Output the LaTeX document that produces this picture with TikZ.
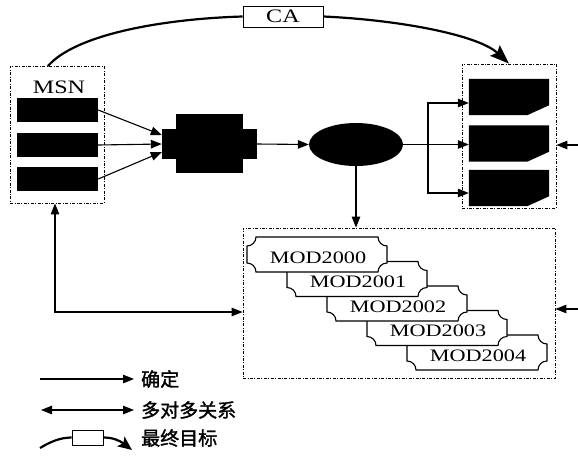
\documentclass[tikz,border=0pt]{standalone}
\usepackage{fontspec}
\setmainfont{Liberation Serif}[FakeStretch=1.27]
\newfontfamily\cjk{Noto Sans CJK SC}[FakeBold=1.5]
\usetikzlibrary{arrows.meta,calc,shapes.geometric}
\begin{document}
\begin{tikzpicture}[x=1pt,y=-1pt,
 dd/.style={draw, line width=0.9pt, dash pattern=on 3pt off 1.5pt on 0.9pt off 1.5pt},
 conn/.style={line width=1.1pt,-{Triangle[length=11pt,width=8.5pt]}},
 both/.style={line width=1.1pt,{Triangle[length=11pt,width=8.5pt]}-{Triangle[length=11pt,width=8.5pt]}},
 big/.style={line width=2.2pt,-{Stealth[length=19pt,width=14pt,inset=3pt]}},
 bigleg/.style={line width=2.2pt,-{Stealth[length=14pt,width=12pt,inset=3pt]}},
 blk/.style={fill=black, inner sep=0pt},
 lbl/.style={font=\fontsize{19}{19}\selectfont, inner sep=0pt},
 modt/.style={font=\fontsize{17.5}{17.5}\selectfont, inner sep=0pt},
 plq/.style={draw, fill=white, line width=1.1pt},
 leg/.style={font=\cjk\fontsize{19}{19}\selectfont, anchor=west, inner sep=0pt}]

\useasboundingbox (0,0) rectangle (578,456);

% ---------- MSN group ----------
\node[dd, minimum width=94pt, minimum height=137pt, inner sep=0pt] (msnbox) at (57,134.5) {};
\node[lbl] (msn) at (59,87) {MSN};
\node[blk, minimum width=81pt, minimum height=24pt] (m1) at (57.5,110) {};
\node[blk, minimum width=81pt, minimum height=24pt] (m2) at (57.5,145) {};
\node[blk, minimum width=81pt, minimum height=24pt] (m3) at (57.5,179) {};

% ---------- black block ----------
\node[blk, minimum width=67pt, minimum height=59pt] (blkt) at (209.5,143.5) {};
\node[blk, minimum width=95pt, minimum height=30pt] (blk) at (209.5,144) {};
\coordinate (bin1) at ($(blk.west)+(0,-9)$);
\coordinate (bin3) at ($(blk.west)+(0,8)$);
\draw[conn] (m1.east) -- (bin1);
\draw[conn] (m2.east) -- (blk.west);
\draw[conn] (m3.east) -- (bin3);

% ---------- ellipse ----------
\node[ellipse, fill=black, minimum width=94pt, minimum height=43pt, inner sep=0pt] (ell) at (356,144.5) {};
\draw[conn] (blk.east) -- (ell.west);

% ---------- right group ----------
\node[dd, minimum width=94pt, minimum height=144pt, inner sep=0pt] (rbox) at (509,136) {};
\node[minimum width=80pt, minimum height=36pt, inner sep=0pt] (r1) at (509,97) {};
\node[minimum width=80pt, minimum height=36pt, inner sep=0pt] (r2) at (509,143.5) {};
\node[minimum width=80pt, minimum height=36pt, inner sep=0pt] (r3) at (509,188) {};
\foreach \r in {r1,r2,r3}{
  \fill (\r.north west) -- (\r.north east) -- ($(\r.south east)+(0,-10)$)
        -- ($(\r.south east)+(-22,0)$) -- (\r.south west) -- cycle;
}
\coordinate (br) at (428,144.5);
\coordinate (a1) at ($(r1.west)+(0,6)$);
\coordinate (a2) at ($(r2.west)+(0,1)$);
\coordinate (a3) at ($(r3.west)+(0,5)$);
\draw[line width=1.1pt] (ell.east) -- (br);
\draw[conn] (br) -- (a2);
\draw[conn] (br) |- (a1);
\draw[conn] (br) |- (a3);
\coordinate (rin) at (578,145);
\draw[conn] (rin) -- (rin -| rbox.east);

% ---------- CA ----------
\node[draw, line width=0.9pt, minimum width=80pt, minimum height=21pt, lbl] (ca) at (283,16.5) {CA};
\coordinate (cs) at (48,66);
\draw[line width=2.2pt] (cs) .. controls (75,35) and (160,19) .. (ca.west);
\draw[big] (ca.east) .. controls (400,20) and (478,35) .. (rbox.north);

% ---------- MOD group ----------
\node[dd, minimum width=312pt, minimum height=150pt, inner sep=0pt] (modbox) at (399,303) {};
\draw[conn] (ell.south) -- (ell.south |- modbox.north);

\foreach \cx/\cy in {477/352.5, 437/328, 397/303.5, 357/279, 317/254.5}{
  \begin{scope}[shift={(\cx,\cy)}]
    \path[plq] (-61,-17.5) -- (61,-17.5) arc[start angle=180, end angle=90, radius=9]
      -- (70,8.5) arc[start angle=270, end angle=180, radius=9]
      -- (-61,17.5) arc[start angle=0, end angle=-90, radius=9]
      -- (-70,-8.5) arc[start angle=90, end angle=0, radius=9] -- cycle;
  \end{scope}
}
\node[modt] (t0) at (318,257.5) {MOD2000};
\node[modt] (t1) at (358,282) {MOD2001};
\node[modt] (t2) at (398,306.5) {MOD2002};
\node[modt] (t3) at (438,331) {MOD2003};
\node[modt] (t4) at (478,355.5) {MOD2004};

\coordinate (min) at (578,309);
\draw[conn] (min) -- (min -| modbox.east);

% MSN <-> MOD
\coordinate (corner) at (55,312);
\draw[both] (msnbox.south -| corner) -- (corner) -- (corner -| modbox.west);

% ---------- legend ----------
\coordinate (l1a) at (40,379);
\coordinate (l1b) at (134,379);
\draw[conn] (l1a) -- (l1b);
\node[leg] (l1t) at (141,379) {确定};

\coordinate (l2a) at (41,410);
\coordinate (l2b) at (134,410);
\draw[both] (l2a) -- (l2b);
\node[leg] (l2t) at (141,410) {多对多关系};

\coordinate (l3a) at (40,448);
\coordinate (l3b) at (132,450);
\node[draw, line width=0.9pt, minimum width=31pt, minimum height=15pt, inner sep=0pt] (lbox) at (87.5,437.5) {};
\draw[line width=2.2pt] (l3a) .. controls (50,442) and (60,437.5) .. (lbox.west);
\draw[bigleg] (lbox.east) .. controls (112,437.5) and (119,440) .. (l3b);
\node[leg] (l3t) at (141,438) {最终目标};
\end{tikzpicture}
\end{document}
